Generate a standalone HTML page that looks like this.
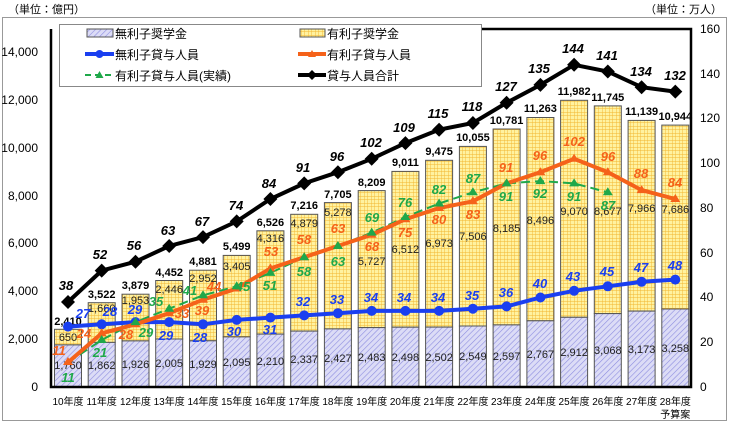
<!DOCTYPE html>
<html><head><meta charset="utf-8"><style>
body{margin:0;background:#fff}
svg{display:block;font-family:"Liberation Sans","Noto Sans CJK JP",sans-serif}
.t{font-size:11px;text-anchor:middle}
.x{font-size:10px;text-anchor:middle}
.b{font-weight:bold;font-style:italic;font-size:13px;text-anchor:middle}
.k{font-weight:bold;font-size:11px;text-anchor:middle}
.ax{font-size:12px}
</style></head><body>
<svg width="730" height="424" viewBox="0 0 730 424">
<defs>
<pattern id="hb" width="4" height="4" patternUnits="userSpaceOnUse" patternTransform="rotate(45)"><rect width="4" height="4" fill="#dcdcf6"/><line x1="0" y1="0" x2="0" y2="4" stroke="#8d8de0" stroke-width="1.2"/></pattern>
<pattern id="hy" width="3.5" height="3.5" patternUnits="userSpaceOnUse"><rect width="3.5" height="3.5" fill="#fff2a0"/><path d="M0 0H3.5M0 0V3.5" stroke="#f2b630" stroke-width="0.9"/></pattern>
</defs>
<text x="8" y="13" font-size="11">（単位：億円）</text>
<text x="722" y="13" font-size="11" text-anchor="end">（単位：万人）</text>
<rect x="2.5" y="17.5" width="724" height="403" fill="none" stroke="#999"/>
<g class="ax" text-anchor="end">
<text x="38" y="391">0</text><text x="38" y="343">2,000</text><text x="38" y="295">4,000</text><text x="38" y="247">6,000</text><text x="38" y="200">8,000</text><text x="38" y="152">10,000</text><text x="38" y="104">12,000</text><text x="38" y="56">14,000</text>
</g>
<g class="ax" text-anchor="start">
<text x="700" y="391">0</text><text x="700" y="346">20</text><text x="700" y="301">40</text><text x="700" y="257">60</text><text x="700" y="212">80</text><text x="700" y="167">100</text><text x="700" y="122">120</text><text x="700" y="78">140</text><text x="700" y="33">160</text>
</g>
<g stroke="#555" stroke-width="1">
<rect x="54.5" y="329.3" width="27" height="15.6" fill="url(#hy)"/><rect x="54.5" y="344.9" width="27" height="42.1" fill="url(#hb)"/>
<rect x="88.2" y="302.7" width="27" height="39.7" fill="url(#hy)"/><rect x="88.2" y="342.4" width="27" height="44.6" fill="url(#hb)"/>
<rect x="122" y="294.2" width="27" height="46.7" fill="url(#hy)"/><rect x="122" y="340.9" width="27" height="46.1" fill="url(#hb)"/>
<rect x="155.7" y="280.5" width="27" height="58.5" fill="url(#hy)"/><rect x="155.7" y="339" width="27" height="48" fill="url(#hb)"/>
<rect x="189.5" y="270.2" width="27" height="70.6" fill="url(#hy)"/><rect x="189.5" y="340.8" width="27" height="46.2" fill="url(#hb)"/>
<rect x="223.2" y="255.4" width="27" height="81.5" fill="url(#hy)"/><rect x="223.2" y="336.9" width="27" height="50.1" fill="url(#hb)"/>
<rect x="256.9" y="230.8" width="27" height="103.3" fill="url(#hy)"/><rect x="256.9" y="334.1" width="27" height="52.9" fill="url(#hb)"/>
<rect x="290.7" y="214.3" width="27" height="116.8" fill="url(#hy)"/><rect x="290.7" y="331.1" width="27" height="55.9" fill="url(#hb)"/>
<rect x="324.4" y="202.6" width="27" height="126.3" fill="url(#hy)"/><rect x="324.4" y="328.9" width="27" height="58.1" fill="url(#hb)"/>
<rect x="358.2" y="190.6" width="27" height="137" fill="url(#hy)"/><rect x="358.2" y="327.6" width="27" height="59.4" fill="url(#hb)"/>
<rect x="391.9" y="171.4" width="27" height="155.8" fill="url(#hy)"/><rect x="391.9" y="327.2" width="27" height="59.8" fill="url(#hb)"/>
<rect x="425.6" y="160.3" width="27" height="166.8" fill="url(#hy)"/><rect x="425.6" y="327.1" width="27" height="59.9" fill="url(#hb)"/>
<rect x="459.4" y="146.4" width="27" height="179.6" fill="url(#hy)"/><rect x="459.4" y="326" width="27" height="61" fill="url(#hb)"/>
<rect x="493.1" y="129" width="27" height="195.9" fill="url(#hy)"/><rect x="493.1" y="324.9" width="27" height="62.1" fill="url(#hb)"/>
<rect x="526.9" y="117.5" width="27" height="203.3" fill="url(#hy)"/><rect x="526.9" y="320.8" width="27" height="66.2" fill="url(#hb)"/>
<rect x="560.6" y="100.3" width="27" height="217" fill="url(#hy)"/><rect x="560.6" y="317.3" width="27" height="69.7" fill="url(#hb)"/>
<rect x="594.3" y="105.9" width="27" height="207.7" fill="url(#hy)"/><rect x="594.3" y="313.6" width="27" height="73.4" fill="url(#hb)"/>
<rect x="628.1" y="120.4" width="27" height="190.7" fill="url(#hy)"/><rect x="628.1" y="311.1" width="27" height="75.9" fill="url(#hb)"/>
<rect x="661.8" y="125.1" width="27" height="184" fill="url(#hy)"/><rect x="661.8" y="309" width="27" height="78" fill="url(#hb)"/>
</g>
<path d="M51 29V387H691V29H482" fill="none" stroke="#000" stroke-width="2.5"/>
<g class="t" fill="#222">
<text x="68" y="369">1,760</text><text x="101.7" y="369">1,862</text><text x="135.5" y="368">1,926</text><text x="169.2" y="367">2,005</text><text x="203" y="368">1,929</text><text x="236.7" y="366">2,095</text><text x="270.4" y="365">2,210</text><text x="304.2" y="363">2,337</text><text x="337.9" y="362">2,427</text><text x="371.7" y="361">2,483</text><text x="405.4" y="361">2,498</text><text x="439.1" y="361">2,502</text><text x="472.9" y="360">2,549</text><text x="506.6" y="360">2,597</text><text x="540.4" y="358">2,767</text><text x="574.1" y="356">2,912</text><text x="607.8" y="354">3,068</text><text x="641.6" y="353">3,173</text><text x="675.3" y="352">3,258</text>
<text x="68" y="341">650</text><text x="101.7" y="312">1,660</text><text x="135.5" y="304">1,953</text><text x="169.2" y="293">2,446</text><text x="203" y="282">2,952</text><text x="236.7" y="270">3,405</text><text x="270.4" y="242">4,316</text><text x="304.2" y="227">4,879</text><text x="337.9" y="216">5,278</text><text x="371.7" y="265">5,727</text><text x="405.4" y="253">6,512</text><text x="439.1" y="247">6,973</text><text x="472.9" y="240">7,506</text><text x="506.6" y="232">8,185</text><text x="540.4" y="224">8,496</text><text x="574.1" y="215">9,070</text><text x="607.8" y="215">8,677</text><text x="641.6" y="212">7,966</text><text x="675.3" y="213">7,686</text>
</g>
<g class="k">
<text x="68" y="325">2,410</text><text x="101.7" y="298">3,522</text><text x="135.5" y="289">3,879</text><text x="169.2" y="276">4,452</text><text x="203" y="265">4,881</text><text x="236.7" y="250">5,499</text><text x="270.4" y="226">6,526</text><text x="304.2" y="209">7,216</text><text x="337.9" y="198">7,705</text><text x="371.7" y="186">8,209</text><text x="405.4" y="166">9,011</text><text x="439.1" y="155">9,475</text><text x="472.9" y="141">10,055</text><text x="506.6" y="124">10,781</text><text x="540.4" y="112">11,263</text><text x="574.1" y="95">11,982</text><text x="607.8" y="101">11,745</text><text x="641.6" y="115">11,139</text><text x="675.3" y="120">10,944</text>
</g>
<polyline fill="none" stroke="#1a3ff0" stroke-width="4" points="68,326.6 101.7,324.3 135.5,322.1 169.2,322.1 203,324.3 236.7,319.9 270.4,317.6 304.2,315.4 337.9,313.2 371.7,310.9 405.4,310.9 439.1,310.9 472.9,308.7 506.6,306.4 540.4,297.5 574.1,290.8 607.8,286.3 641.6,281.8 675.3,279.6"/>
<g fill="#1a3ff0"><circle cx="68" cy="326.6" r="5"/><circle cx="101.7" cy="324.3" r="5"/><circle cx="135.5" cy="322.1" r="5"/><circle cx="169.2" cy="322.1" r="5"/><circle cx="203" cy="324.3" r="5"/><circle cx="236.7" cy="319.9" r="5"/><circle cx="270.4" cy="317.6" r="5"/><circle cx="304.2" cy="315.4" r="5"/><circle cx="337.9" cy="313.2" r="5"/><circle cx="371.7" cy="310.9" r="5"/><circle cx="405.4" cy="310.9" r="5"/><circle cx="439.1" cy="310.9" r="5"/><circle cx="472.9" cy="308.7" r="5"/><circle cx="506.6" cy="306.4" r="5"/><circle cx="540.4" cy="297.5" r="5"/><circle cx="574.1" cy="290.8" r="5"/><circle cx="607.8" cy="286.3" r="5"/><circle cx="641.6" cy="281.8" r="5"/><circle cx="675.3" cy="279.6" r="5"/></g>
<polyline fill="none" stroke="#1fa84a" stroke-width="2" stroke-dasharray="9,5" points="68,362.4 101.7,340 135.5,322.1 169.2,308.7 203,295.3 236.7,286.3 270.4,272.9 304.2,257.2 337.9,246 371.7,232.6 405.4,217 439.1,203.5 472.9,192.3 506.6,183.4 540.4,181.1 574.1,183.4 607.8,192.3"/>
<polyline fill="none" stroke="#f5621a" stroke-width="4" points="68,362.4 101.7,333.3 135.5,324.3 169.2,313.2 203,299.7 236.7,288.5 270.4,268.4 304.2,257.2 337.9,246 371.7,234.8 405.4,219.2 439.1,208 472.9,201.3 506.6,183.4 540.4,172.2 574.1,158.8 607.8,172.2 641.6,190.1 675.3,199"/>
<g fill="#f5621a">
<path d="M68 357l5 8h-10z"/><path d="M101.7 328.3l5 8h-10z"/><path d="M135.5 319.3l5 8h-10z"/><path d="M169.2 308.2l5 8h-10z"/><path d="M203 294.7l5 8h-10z"/><path d="M236.7 283.5l5 8h-10z"/><path d="M270.4 263.4l5 8h-10z"/><path d="M304.2 252.2l5 8h-10z"/><path d="M337.9 241l5 8h-10z"/><path d="M371.7 229.8l5 8h-10z"/><path d="M405.4 214.2l5 8h-10z"/><path d="M439.1 203l5 8h-10z"/><path d="M472.9 196.3l5 8h-10z"/><path d="M506.6 178.4l5 8h-10z"/><path d="M540.4 167.2l5 8h-10z"/><path d="M574.1 153.8l5 8h-10z"/><path d="M607.8 167.2l5 8h-10z"/><path d="M641.6 185.1l5 8h-10z"/><path d="M675.3 194l5 8h-10z"/>
</g>
<g fill="#1fa84a">
<path d="M101.7 335l5 8h-10z"/><path d="M135.5 317.1l5 8h-10z"/><path d="M169.2 303.7l5 8h-10z"/><path d="M203 290.3l5 8h-10z"/><path d="M236.7 281.3l5 8h-10z"/><path d="M270.4 267.9l5 8h-10z"/><path d="M304.2 252.2l5 8h-10z"/><path d="M337.9 241l5 8h-10z"/><path d="M371.7 227.6l5 8h-10z"/><path d="M405.4 212l5 8h-10z"/><path d="M439.1 198.5l5 8h-10z"/><path d="M472.9 187.3l5 8h-10z"/><path d="M506.6 178.4l5 8h-10z"/><path d="M540.4 176.1l5 8h-10z"/><path d="M574.1 178.4l5 8h-10z"/><path d="M607.8 187.3l5 8h-10z"/>
</g>
<polyline fill="none" stroke="#000" stroke-width="4" points="68,302 101.7,270.6 135.5,261.7 169.2,246 203,237.1 236.7,221.4 270.4,199 304.2,183.4 337.9,172.2 371.7,158.8 405.4,143.1 439.1,129.7 472.9,123 506.6,102.8 540.4,84.9 574.1,64.8 607.8,71.5 641.6,87.2 675.3,91.6"/>
<g fill="#000">
<path d="M68 295l7 7-7 7-7-7z"/><path d="M101.7 263.6l7 7-7 7-7-7z"/><path d="M135.5 254.7l7 7-7 7-7-7z"/><path d="M169.2 239l7 7-7 7-7-7z"/><path d="M203 230.1l7 7-7 7-7-7z"/><path d="M236.7 214.4l7 7-7 7-7-7z"/><path d="M270.4 192l7 7-7 7-7-7z"/><path d="M304.2 176.4l7 7-7 7-7-7z"/><path d="M337.9 165.2l7 7-7 7-7-7z"/><path d="M371.7 151.8l7 7-7 7-7-7z"/><path d="M405.4 136.1l7 7-7 7-7-7z"/><path d="M439.1 122.7l7 7-7 7-7-7z"/><path d="M472.9 116l7 7-7 7-7-7z"/><path d="M506.6 95.8l7 7-7 7-7-7z"/><path d="M540.4 77.9l7 7-7 7-7-7z"/><path d="M574.1 57.8l7 7-7 7-7-7z"/><path d="M607.8 64.5l7 7-7 7-7-7z"/><path d="M641.6 80.2l7 7-7 7-7-7z"/><path d="M675.3 84.6l7 7-7 7-7-7z"/>
</g>
<g class="b" fill="#000">
<text x="66" y="290">38</text><text x="100" y="259">52</text><text x="134" y="250">56</text><text x="168" y="235">63</text><text x="202" y="226">67</text><text x="236" y="210">74</text><text x="269" y="188">84</text><text x="303" y="172">91</text><text x="337" y="161">96</text><text x="371" y="147">102</text><text x="404" y="132">109</text><text x="438" y="118">115</text><text x="472" y="111">118</text><text x="506" y="91">127</text><text x="539" y="73">135</text><text x="573" y="53">144</text><text x="607" y="60">141</text><text x="641" y="76">134</text><text x="675" y="80">132</text>
</g>
<g class="b" fill="#1a3ff0">
<text x="83" y="318">27</text><text x="110" y="316">28</text><text x="135" y="314">29</text><text x="166" y="340">29</text><text x="200" y="342">28</text><text x="234" y="336">30</text><text x="270" y="334">31</text><text x="303" y="306">32</text><text x="337" y="304">33</text><text x="371" y="302">34</text><text x="404" y="302">34</text><text x="438" y="302">34</text><text x="472" y="300">35</text><text x="506" y="297">36</text><text x="540" y="288">40</text><text x="573" y="281">43</text><text x="607" y="276">45</text><text x="641" y="272">47</text><text x="675" y="270">48</text>
</g>
<g class="b" fill="#f5621a">
<text x="59" y="355">11</text><text x="84" y="338">24</text><text x="126" y="339">28</text><text x="182" y="318">33</text><text x="202" y="315">39</text><text x="214" y="291">44</text><text x="271" y="256">53</text><text x="304" y="244">58</text><text x="338" y="233">63</text><text x="372" y="251">68</text><text x="405" y="237">75</text><text x="439" y="224">80</text><text x="473" y="219">83</text><text x="506" y="172">91</text><text x="540" y="160">96</text><text x="574" y="146">102</text><text x="608" y="161">96</text><text x="641" y="178">88</text><text x="675" y="187">84</text>
</g>
<g class="b" fill="#1fa84a">
<text x="68" y="382">11</text><text x="100" y="357">21</text><text x="146" y="337">29</text><text x="156" y="306">35</text><text x="190" y="295">41</text><text x="243" y="291">45</text><text x="270" y="290">51</text><text x="304" y="276">58</text><text x="338" y="266">63</text><text x="372" y="222">69</text><text x="405" y="207">76</text><text x="439" y="194">82</text><text x="473" y="183">87</text><text x="506" y="201">91</text><text x="540" y="198">92</text><text x="574" y="201">91</text><text x="608" y="210">87</text>
</g>
<rect x="59.5" y="24.5" width="422" height="62" fill="#fff" stroke="#888"/>
<rect x="87" y="29" width="26" height="8" fill="url(#hb)" stroke="#555"/>
<text x="115" y="38" font-size="12">無利子奨学金</text>
<line x1="85" y1="54" x2="114" y2="54" stroke="#1a3ff0" stroke-width="4"/><circle cx="99.5" cy="54" r="4" fill="#1a3ff0"/>
<text x="115" y="59" font-size="12">無利子貸与人員</text>
<line x1="85" y1="75" x2="114" y2="75" stroke="#1fa84a" stroke-width="2" stroke-dasharray="6,4"/><path d="M99.5 71l4 7h-8z" fill="#1fa84a"/>
<text x="115" y="80" font-size="12">有利子貸与人員(実績)</text>
<rect x="300" y="29" width="25" height="8" fill="url(#hy)" stroke="#555"/>
<text x="327" y="38" font-size="12">有利子奨学金</text>
<line x1="298" y1="54" x2="326" y2="54" stroke="#f5621a" stroke-width="4"/><path d="M312 50l4 7h-8z" fill="#f5621a"/>
<text x="327" y="59" font-size="12">有利子貸与人員</text>
<line x1="298" y1="75" x2="326" y2="75" stroke="#000" stroke-width="4"/><path d="M312 70l5 5-5 5-5-5z" fill="#000"/>
<text x="327" y="80" font-size="12">貸与人員合計</text>
<g class="x">
<text x="68" y="405">10年度</text><text x="101.7" y="405">11年度</text><text x="135.5" y="405">12年度</text><text x="169.2" y="405">13年度</text><text x="203" y="405">14年度</text><text x="236.7" y="405">15年度</text><text x="270.4" y="405">16年度</text><text x="304.2" y="405">17年度</text><text x="337.9" y="405">18年度</text><text x="371.7" y="405">19年度</text><text x="405.4" y="405">20年度</text><text x="439.1" y="405">21年度</text><text x="472.9" y="405">22年度</text><text x="506.6" y="405">23年度</text><text x="540.4" y="405">24年度</text><text x="574.1" y="405">25年度</text><text x="607.8" y="405">26年度</text><text x="641.6" y="405">27年度</text><text x="675.3" y="405">28年度</text><text x="675.3" y="418">予算案</text>
</g>
</svg>
</body></html>
